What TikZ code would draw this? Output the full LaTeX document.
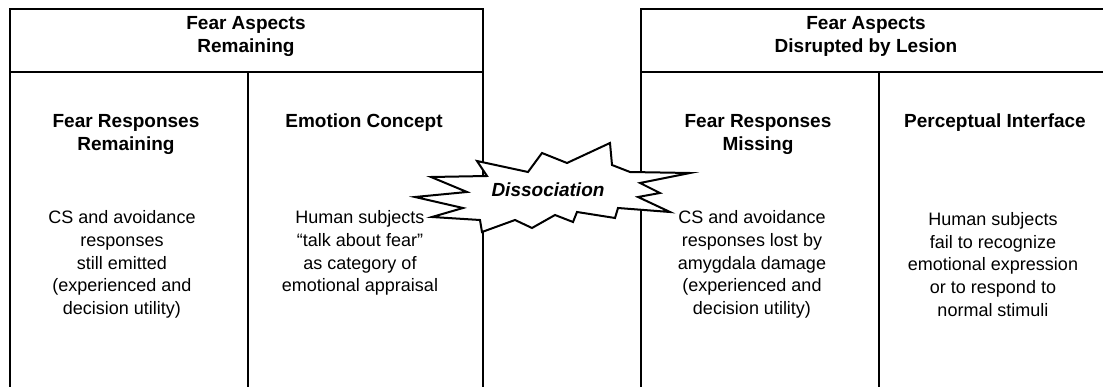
\documentclass[tikz,border=0pt]{standalone}
\usepackage{fontspec}
\setmainfont{Liberation Sans}
\begin{document}
\begin{tikzpicture}[x=1pt,y=-1pt,
  boxline/.style={line width=2pt,line cap=rect},
  toprule/.style={line width=2.8pt},
  hdr/.style={font=\fontsize{19}{22.7}\selectfont\bfseries,align=center,inner sep=0pt},
  body/.style={font=\fontsize{18}{22.7}\selectfont,align=center,inner sep=0pt},
  burst/.style={line width=2pt,line join=miter,fill=white,draw=black}]
\useasboundingbox (0,0) rectangle (1103,387);
% left box
\draw[boxline] (10,388) -- (10,9) -- (483,9) -- (483,388);
\draw[toprule] (9,9) -- (484,9);
\draw[boxline] (10,72) -- (483,72);
\draw[boxline] (248,72) -- (248,388);
% right box
\draw[boxline] (641,388) -- (641,9) -- (1110,9);
\draw[toprule] (640,9) -- (1110,9);
\draw[boxline] (641,72) -- (1110,72);
\draw[boxline] (879,72) -- (879,388);
% headers
\node[hdr] (lh) at (246,36.5) {Fear Aspects\\Remaining};
\node[hdr] (rh) at (866,36.5) {Fear Aspects\\Disrupted by Lesion};
\node[hdr] (c1h) at (126,134.5) {Fear Responses\\Remaining};
\node[hdr] (c2h) at (364,123) {Emotion Concept};
\node[hdr] (c3h) at (758,134.5) {Fear Responses\\Missing};
\node[hdr] (c4h) at (995,123) {Perceptual Interface};
% bodies
\node[body] (c1b) at (122,264.5) {CS and avoidance\\responses\\still emitted\\(experienced and\\decision utility)};
\node[body] (c2b) at (360,253) {Human subjects\\``talk about fear''\\as category of\\emotional appraisal};
\node[body] (c3b) at (752,264.5) {CS and avoidance\\responses lost by\\amygdala damage\\(experienced and\\decision utility)};
\node[body] (c4b) at (993,264.5) {Human subjects\\fail to recognize\\emotional expression\\or to respond to\\normal stimuli};
% starburst
\draw[burst] (477,161) -- (487,176) -- (431,177) -- (467,192) -- (415,197) -- (463,208)
  -- (432,217) -- (480,220) -- (482,232) -- (515,220) -- (532,228) -- (555,215)
  -- (573,222) -- (577,212) -- (615,218) -- (618,208) -- (670,212) -- (638,197)
  -- (660,193) -- (640,183) -- (690,173) -- (630,172) -- (612,165) -- (610,143)
  -- (567,163) -- (542,153) -- (528,172) -- cycle;
\node[font=\fontsize{19}{22}\selectfont\bfseries\itshape,inner sep=0pt] (dis) at (548,190) {Dissociation};
\end{tikzpicture}
\end{document}
